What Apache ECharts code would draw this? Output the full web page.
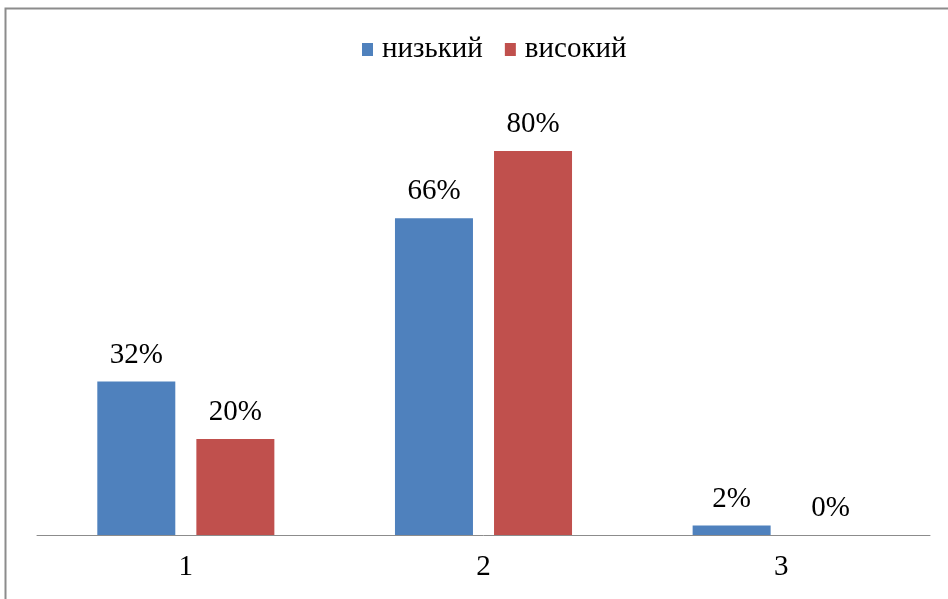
<!DOCTYPE html>
<html><head><meta charset="utf-8">
<script src="https://cdn.jsdelivr.net/npm/echarts@6/dist/echarts.min.js"></script>
<style>html,body{margin:0;padding:0;background:#fff}#c{width:948px;height:599px}</style>
</head><body><div id="c"></div>
<script>
var categories = ['1', '2', '3'];
var seriesNames = ['низький', 'високий'];
var lowValues = [32, 66, 2];
var highValues = [20, 80, 0];

var chart = echarts.init(document.getElementById('c'));
var font = '"Liberation Serif", "Times New Roman", serif';
var lbl = {show: true, position: 'top', distance: 12, formatter: '{c}%', color: '#000', fontFamily: font, fontSize: 29};
chart.setOption({
  animation: false,
  graphic: [{type: 'rect', shape: {x: 5.5, y: 8.5, width: 1000, height: 700}, style: {fill: 'none', stroke: '#8c8c8c', lineWidth: 2}}],
  legend: {top: 30, left: 357, itemWidth: 11, itemHeight: 13, itemGap: 22, icon: 'rect',
    textStyle: {fontFamily: font, fontSize: 29, color: '#000', padding: [0, 0, 0, 4]}, data: seriesNames},
  grid: {left: 37, right: 18, top: 55, bottom: 64},
  xAxis: {type: 'category', data: categories, axisTick: {show: false},
    axisLine: {lineStyle: {color: '#8c8c8c', width: 1}},
    axisLabel: {color: '#000', fontFamily: font, fontSize: 29, margin: 18}},
  yAxis: {type: 'value', min: 0, max: 100, show: false, splitLine: {show: false}},
  series: [
    {name: seriesNames[0], type: 'bar', data: lowValues, barWidth: 78, barGap: '27%', itemStyle: {color: '#4F81BD'}, label: lbl},
    {name: seriesNames[1], type: 'bar', data: highValues, barWidth: 78, itemStyle: {color: '#C0504D'}, label: lbl}
  ]
});
</script></body></html>
